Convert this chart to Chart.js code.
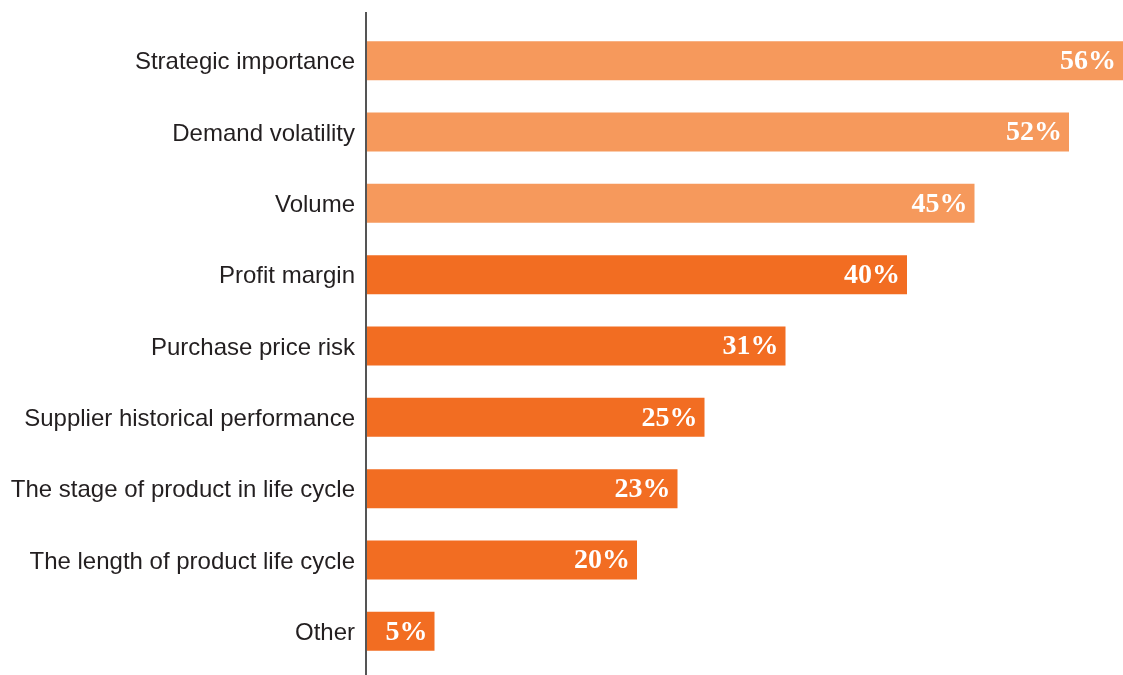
<!DOCTYPE html>
<html>
<head>
<meta charset="utf-8">
<script src="https://cdn.jsdelivr.net/npm/chart.js@4"></script>
<style>
  html, body { margin: 0; padding: 0; background: #fff; }
  #wrap { width: 1123px; height: 675px; position: relative; }
</style>
</head>
<body>
<div id="wrap"><canvas id="chart"></canvas></div>
<script>
// data
const categories = [
  'Strategic importance',
  'Demand volatility',
  'Volume',
  'Profit margin',
  'Purchase price risk',
  'Supplier historical performance',
  'The stage of product in life cycle',
  'The length of product life cycle',
  'Other'
];
const shares = [56, 52, 45, 40, 31, 25, 23, 20, 5];
// first three bars are drawn in the lighter tint
const highlighted = [true, true, true, false, false, false, false, false, false];

const LIGHT = '#F6995C';
const DARK = '#F26D22';

// white percentage label at the end of each bar
const valueLabels = {
  id: 'valueLabels',
  afterDatasetsDraw(chart) {
    const ctx = chart.ctx;
    const meta = chart.getDatasetMeta(0);
    ctx.save();
    ctx.fillStyle = '#fff';
    ctx.font = 'bold 28px "Liberation Serif", serif';
    ctx.textAlign = 'right';
    ctx.textBaseline = 'middle';
    meta.data.forEach((bar, i) => {
      ctx.fillText(shares[i] + '%', bar.x - 7, bar.y + 1);
    });
    ctx.restore();
  }
};

// the vertical axis line runs a bit past the bars, top and bottom
const axisLine = {
  id: 'axisLine',
  afterDraw(chart) {
    const ctx = chart.ctx;
    const x = chart.chartArea.left - 1;
    ctx.save();
    ctx.strokeStyle = '#555';
    ctx.lineWidth = 2;
    ctx.beginPath();
    ctx.moveTo(x, chart.chartArea.top - 13);
    ctx.lineTo(x, chart.height);
    ctx.stroke();
    ctx.restore();
  }
};

new Chart(document.getElementById('chart'), {
  type: 'bar',
  data: {
    labels: categories,
    datasets: [{
      data: shares,
      backgroundColor: highlighted.map(h => h ? LIGHT : DARK),
      borderWidth: 0,
      categoryPercentage: 1,
      barPercentage: 0.547
    }]
  },
  options: {
    indexAxis: 'y',
    responsive: true,
    maintainAspectRatio: false,
    animation: false,
    layout: { padding: { top: 25, bottom: 8, left: 0, right: 0 } },
    plugins: {
      legend: { display: false },
      tooltip: { enabled: false }
    },
    scales: {
      x: {
        display: false,
        min: 0,
        max: 56
      },
      y: {
        afterFit(scale) {
          scale.width = 367;
          scale.paddingTop = 0;
          scale.paddingBottom = 0;
        },
        grid: { display: false, drawTicks: false },
        border: { display: false },
        ticks: {
          padding: 12,
          labelOffset: 2,
          color: '#231F20',
          font: { family: '"Liberation Sans", Arial, sans-serif', size: 24 }
        }
      }
    }
  },
  plugins: [valueLabels, axisLine]
});
</script>
</body>
</html>
